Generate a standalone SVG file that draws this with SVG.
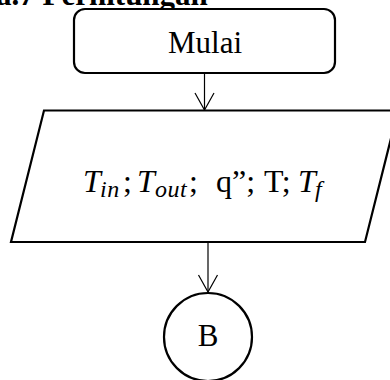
<svg xmlns="http://www.w3.org/2000/svg" width="390" height="380" viewBox="0 0 390 380">
  <style>
    .shape { fill: #ffffff; stroke: #000000; stroke-width: 2.2; }
    .conn { fill: none; stroke: #000000; stroke-width: 1.2; }
    .label { font-family: "Liberation Serif", "Times New Roman", serif; font-size: 31px; fill: #000000; text-anchor: middle; }
    .math { font-family: "Liberation Serif", "Times New Roman", serif; font-size: 32px; fill: #000000; }
    .it { font-style: italic; }
    .sub { font-style: italic; font-size: 24px; letter-spacing: 0.5px; }
    .title { font-family: "Liberation Serif", "Times New Roman", serif; font-size: 31px; font-weight: bold; fill: #000000; }
  </style>
  <defs>
    <marker id="vhead" viewBox="-18 -11 20 22" markerWidth="20" markerHeight="22" refX="0" refY="0" orient="auto" markerUnits="userSpaceOnUse">
      <path d="M-17,-9.5 L0,0 L-17,9.5" fill="none" stroke="#000000" stroke-width="1.2"/>
    </marker>
  </defs>

  <!-- section heading, clipped by the top edge -->
  <text class="title" x="-4" y="5">a.7 Perhitungan</text>

  <g id="connectors">
    <line class="conn" x1="204.5" y1="74" x2="204.5" y2="110" marker-end="url(#vhead)"/>
    <line class="conn" x1="208" y1="243" x2="208" y2="292" marker-end="url(#vhead)"/>
  </g>

  <g id="start">
    <rect class="shape" x="74" y="9" width="261" height="64" rx="11" ry="11"/>
    <text class="label" x="205" y="53">Mulai</text>
  </g>

  <g id="input">
    <polygon class="shape" points="44,110.5 398,110.5 365,242 11,242"/>
    <text class="math" y="192"><tspan class="it" x="83">T</tspan><tspan class="sub" x="100" dy="5">in</tspan><tspan x="123" dy="-5">;</tspan><tspan class="it" x="137">T</tspan><tspan class="sub" x="155" dy="5">out</tspan><tspan x="189" dy="-5">;</tspan><tspan x="216">q”;</tspan><tspan x="264">T;</tspan><tspan class="it" x="298">T</tspan><tspan class="sub" x="315" dy="5">f</tspan></text>
  </g>

  <g id="connector-b">
    <circle class="shape" cx="208" cy="337" r="44"/>
    <text class="label" x="208" y="346">B</text>
  </g>
</svg>
